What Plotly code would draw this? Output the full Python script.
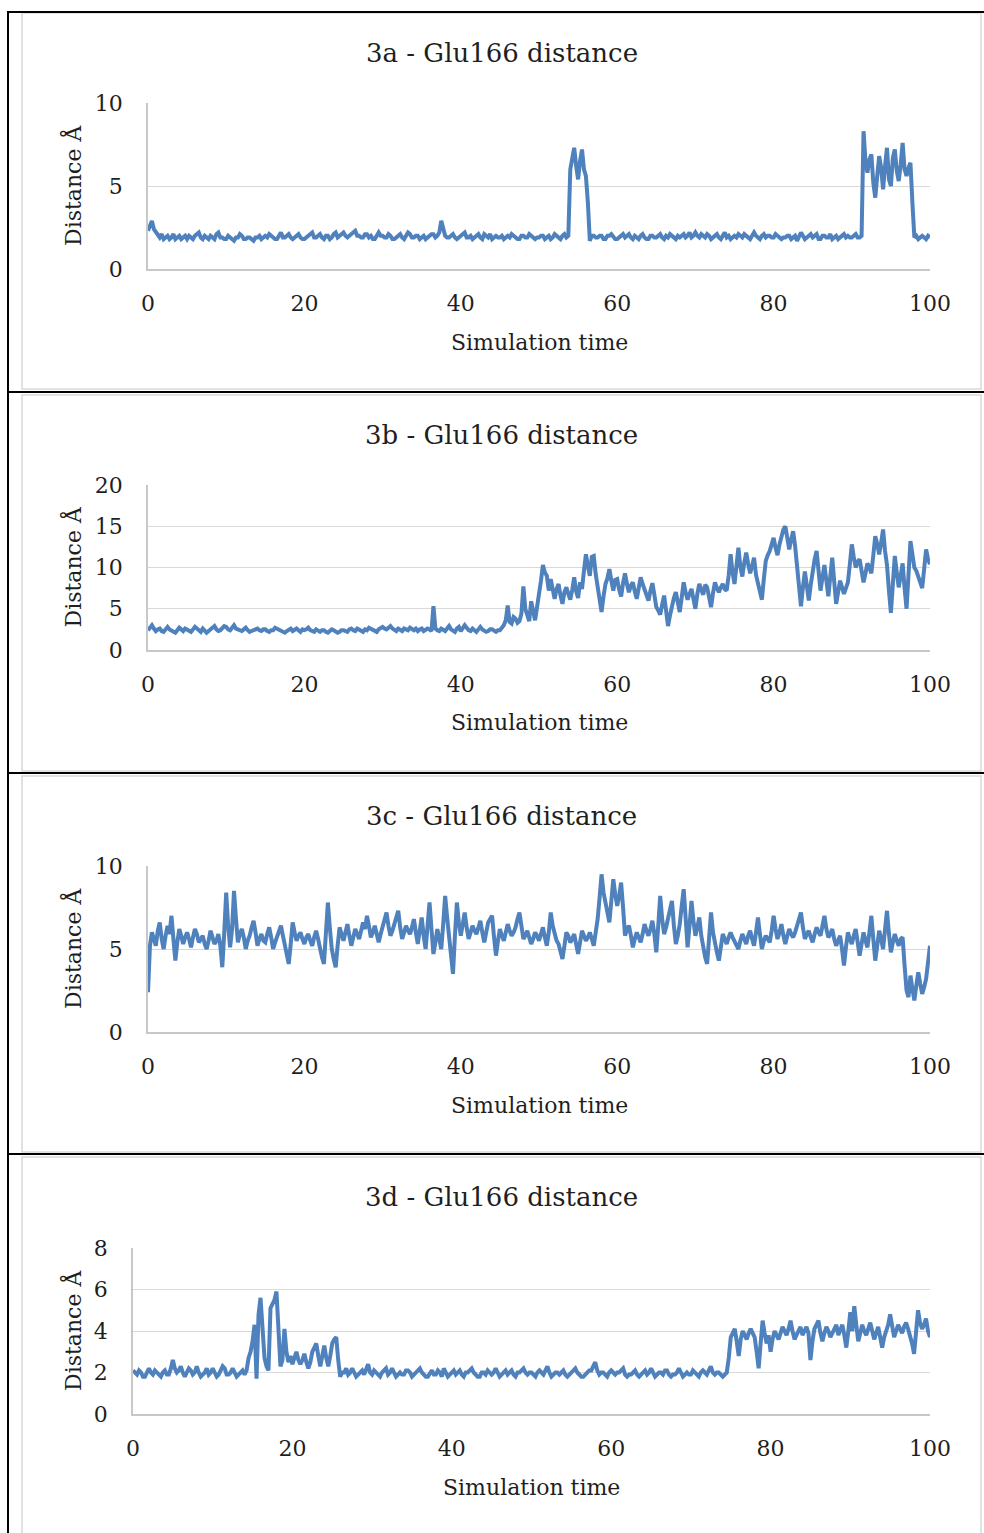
import plotly.graph_objects as go

W, H = 984, 1533

time = [i * 0.25 for i in range(401)]

dist_3a = [
    2.3, 2.6, 2.9, 2.4, 2.2, 2.0, 1.9, 2.1, 1.8, 1.9, 2.0, 1.8, 1.9, 2.1, 1.8, 1.9, 2.0, 1.8, 1.9, 2.0,
    1.8, 2.0, 1.9, 1.8, 2.0, 2.1, 2.2, 1.9, 1.8, 2.0, 1.9, 1.8, 2.0, 1.9, 1.8, 2.1, 2.2, 1.9, 1.9, 1.8,
    1.8, 2.0, 1.9, 1.8, 1.7, 1.9, 1.9, 2.1, 2.0, 1.8, 1.8, 1.9, 1.9, 1.8, 1.7, 1.9, 1.9, 2.0, 1.8, 1.9,
    2.0, 1.9, 2.1, 2.0, 1.9, 1.8, 1.8, 2.0, 2.2, 1.9, 1.9, 2.0, 2.1, 1.9, 1.8, 1.9, 2.0, 2.1, 1.9, 1.8,
    1.8, 1.9, 2.0, 2.1, 2.2, 1.9, 1.9, 2.0, 2.1, 1.9, 1.8, 2.0, 2.0, 1.8, 1.9, 2.1, 2.2, 1.9, 2.0, 2.1,
    2.2, 2.0, 1.9, 2.0, 2.1, 2.2, 2.3, 2.0, 2.0, 1.9, 1.9, 2.1, 2.1, 1.9, 2.0, 1.8, 1.8, 2.0, 2.2, 2.0,
    2.0, 1.9, 1.9, 2.1, 2.0, 1.8, 1.8, 1.9, 2.0, 2.1, 1.9, 1.8, 2.0, 2.2, 2.1, 1.9, 1.9, 2.0, 2.0, 1.8,
    1.9, 2.0, 1.8, 1.9, 2.0, 2.1, 2.1, 1.9, 2.0, 2.2, 2.9, 2.3, 2.0, 1.9, 1.9, 2.0, 2.1, 1.9, 1.8, 1.9,
    2.0, 2.1, 2.2, 1.9, 1.9, 2.0, 1.8, 1.9, 2.0, 2.1, 1.9, 1.8, 2.1, 2.0, 1.9, 2.1, 1.8, 1.9, 2.0, 1.9,
    1.9, 2.0, 1.8, 1.9, 2.0, 1.9, 2.1, 2.0, 1.9, 1.8, 1.8, 2.0, 2.0, 1.9, 1.9, 2.1, 2.0, 1.9, 1.8, 1.9,
    1.9, 2.0, 2.0, 1.8, 1.9, 2.0, 1.8, 1.9, 2.1, 2.0, 1.9, 1.8, 2.0, 2.1, 1.9, 2.0, 6.0, 6.8, 7.3, 6.2,
    5.4, 6.5, 7.2, 6.0, 5.6, 4.0, 1.7, 2.0, 2.0, 1.9, 1.9, 2.0, 2.0, 1.8, 1.8, 2.0, 2.0, 2.1, 1.9, 1.8,
    1.8, 1.9, 2.0, 2.1, 1.9, 2.0, 2.1, 1.9, 1.8, 2.0, 1.9, 1.8, 2.0, 2.1, 1.9, 1.8, 1.8, 2.0, 2.0, 1.9,
    1.9, 2.0, 2.1, 1.9, 1.8, 2.0, 1.9, 2.1, 2.0, 1.9, 1.8, 2.0, 1.9, 2.0, 2.1, 1.9, 2.0, 2.2, 1.9, 2.0,
    2.2, 2.0, 1.9, 2.1, 2.0, 1.9, 2.1, 2.0, 1.8, 1.9, 2.0, 2.1, 1.9, 1.8, 2.0, 2.2, 1.9, 2.0, 1.8, 1.9,
    2.0, 1.9, 2.1, 2.0, 1.9, 2.1, 2.0, 1.9, 1.8, 2.0, 2.2, 2.0, 1.9, 1.8, 2.0, 2.1, 1.9, 2.0, 2.0, 1.9,
    1.9, 2.1, 2.0, 1.9, 1.8, 1.9, 1.9, 2.0, 2.0, 1.8, 1.9, 2.0, 1.7, 1.9, 2.2, 2.0, 1.8, 1.9, 2.0, 2.1,
    1.9, 2.0, 2.1, 1.8, 1.8, 2.0, 2.0, 1.9, 1.9, 2.1, 1.8, 1.9, 2.0, 1.8, 1.9, 2.0, 2.1, 1.9, 2.0, 1.9,
    1.9, 2.0, 2.1, 1.9, 1.9, 2.0, 8.3, 6.5, 5.8, 6.6, 6.9, 5.2, 4.3, 5.6, 6.8, 6.1, 4.8, 6.2, 7.3, 5.4,
    5.0, 6.7, 7.2, 5.9, 5.3, 6.3, 7.6, 6.0, 5.6, 6.1, 6.4, 4.0, 1.9, 2.0, 1.8, 1.9, 2.0, 1.9, 1.8, 2.0,
    1.9,
]

dist_3b = [
    2.4, 2.8, 3.0, 2.6, 2.3, 2.5, 2.6, 2.3, 2.2, 2.5, 2.8, 2.5, 2.4, 2.2, 2.1, 2.4, 2.7, 2.5, 2.3, 2.6,
    2.5, 2.3, 2.2, 2.5, 2.8, 2.6, 2.4, 2.2, 2.6, 2.4, 2.1, 2.3, 2.5, 2.8, 2.9, 2.5, 2.3, 2.4, 2.6, 2.9,
    2.8, 2.5, 2.4, 2.7, 3.0, 2.6, 2.5, 2.3, 2.3, 2.5, 2.7, 2.4, 2.2, 2.3, 2.4, 2.6, 2.6, 2.4, 2.3, 2.5,
    2.5, 2.3, 2.2, 2.4, 2.4, 2.7, 2.6, 2.4, 2.3, 2.2, 2.1, 2.3, 2.5, 2.6, 2.3, 2.4, 2.6, 2.4, 2.2, 2.5,
    2.4, 2.5, 2.7, 2.4, 2.3, 2.2, 2.5, 2.3, 2.2, 2.4, 2.4, 2.2, 2.1, 2.3, 2.5, 2.4, 2.3, 2.1, 2.2, 2.4,
    2.4, 2.3, 2.2, 2.5, 2.6, 2.4, 2.3, 2.6, 2.5, 2.3, 2.2, 2.5, 2.4, 2.7, 2.6, 2.4, 2.3, 2.2, 2.5, 2.6,
    2.8, 2.6, 2.5, 2.7, 2.9, 2.6, 2.4, 2.3, 2.6, 2.5, 2.3, 2.6, 2.5, 2.4, 2.7, 2.5, 2.4, 2.6, 2.3, 2.5,
    2.6, 2.3, 2.4, 2.6, 2.5, 2.3, 5.3, 2.6, 2.4, 2.3, 2.6, 2.4, 2.3, 2.6, 2.9, 2.5, 2.4, 2.2, 2.6, 2.8,
    2.3, 2.6, 3.0, 2.7, 2.4, 2.3, 2.6, 2.4, 2.2, 2.5, 2.8, 2.5, 2.4, 2.2, 2.3, 2.5, 2.5, 2.3, 2.2, 2.4,
    2.4, 2.7, 3.0, 3.6, 5.4, 3.4, 3.2, 4.0, 3.8, 3.3, 3.5, 4.4, 7.7, 5.0, 4.2, 3.5, 5.9, 4.6, 3.6, 5.2,
    6.5, 8.4, 10.3, 9.4, 9.0, 7.2, 8.6, 7.5, 6.2, 7.4, 8.0, 6.6, 5.6, 7.0, 7.6, 6.8, 6.1, 7.3, 8.8, 7.1,
    6.3, 8.2, 7.4, 9.6, 11.6, 10.2, 9.0, 11.3, 11.4, 9.2, 7.5, 6.2, 4.6, 6.5, 8.0, 8.7, 9.8, 8.4, 7.2, 8.5,
    8.6, 7.3, 6.5, 8.1, 9.3, 8.0, 7.0, 7.8, 8.2, 7.1, 6.2, 7.5, 8.8, 8.0, 7.4, 6.6, 6.0, 7.2, 8.1, 6.7,
    5.2, 4.8, 4.3, 5.5, 6.6, 4.8, 2.9, 4.2, 5.6, 6.3, 7.0, 5.8, 4.6, 6.4, 8.2, 7.0, 6.1, 6.8, 7.4, 6.2,
    5.0, 6.8, 8.0, 7.3, 6.7, 7.9, 7.6, 6.4, 5.2, 6.9, 8.2, 7.5, 7.0, 7.6, 8.0, 7.4, 7.2, 9.0, 11.6, 9.4,
    8.0, 10.2, 12.4, 10.1, 8.9, 10.6, 11.8, 10.4, 9.3, 10.2, 11.2, 9.1, 8.0, 7.0, 6.1, 8.6, 10.8, 11.5, 12.0, 12.8,
    13.6, 12.4, 11.5, 12.8, 14.0, 14.6, 15.0, 13.5, 12.2, 13.4, 14.4, 12.6, 10.5, 7.8, 5.3, 7.6, 9.5, 7.8, 6.0, 7.9,
    9.8, 11.0, 12.0, 9.5, 7.2, 8.8, 10.3, 8.4, 6.5, 8.9, 11.2, 8.3, 5.6, 7.0, 8.4, 7.6, 6.8, 7.5, 8.2, 10.4,
    12.8, 11.3, 10.0, 10.7, 11.0, 9.6, 8.2, 9.3, 10.5, 10.0, 9.3, 11.5, 13.8, 12.9, 11.6, 13.0, 14.6, 12.0, 10.3, 7.2,
    4.5, 8.0, 11.4, 9.4, 7.6, 9.0, 10.5, 7.5, 5.0, 9.1, 13.2, 11.6, 10.0, 9.6, 9.0, 8.3, 7.5, 9.8, 12.2, 11.0,
    10.4,
]

dist_3c = [
    2.4, 5.2, 6.0, 5.5, 5.2, 6.1, 6.6, 5.6, 5.0, 5.8, 6.4, 5.9, 7.0, 5.6, 4.3, 5.4, 6.2, 5.8, 5.3, 5.7,
    6.0, 5.6, 5.1, 5.7, 6.2, 5.9, 5.4, 5.6, 5.8, 5.3, 5.0, 5.5, 6.1, 5.7, 5.3, 5.5, 5.9, 5.2, 3.9, 6.0,
    8.4, 6.4, 5.1, 6.2, 8.5, 6.8, 5.4, 5.9, 6.2, 5.7, 5.0, 5.5, 5.8, 6.3, 6.7, 6.0, 5.2, 5.6, 5.9, 5.5,
    5.4, 5.9, 6.3, 5.7, 5.0, 5.4, 5.8, 6.1, 6.4, 5.8, 5.2, 4.8, 4.1, 5.3, 6.6, 6.0, 5.5, 5.8, 6.0, 5.6,
    5.3, 5.7, 5.9, 5.5, 5.2, 5.7, 6.1, 5.6, 4.9, 4.5, 4.1, 5.6, 7.8, 6.3, 5.0, 4.4, 3.9, 5.2, 6.3, 5.9,
    5.5, 6.0, 6.5, 5.8, 5.2, 5.7, 6.2, 5.9, 5.6, 6.1, 6.6, 6.2, 7.0, 6.4, 5.7, 6.0, 6.4, 5.9, 5.4, 5.9,
    6.3, 6.8, 7.2, 6.4, 5.8, 6.1, 6.5, 6.9, 7.3, 6.3, 5.6, 6.0, 6.4, 6.1, 5.9, 6.3, 6.8, 6.0, 5.3, 6.1,
    6.9, 5.8, 5.0, 6.4, 7.8, 6.2, 4.7, 5.4, 6.2, 5.6, 5.0, 6.5, 8.2, 6.9, 5.6, 4.5, 3.5, 5.8, 7.8, 6.6,
    5.8, 6.5, 7.2, 6.3, 5.6, 6.0, 6.4, 6.1, 5.9, 6.3, 6.7, 6.0, 5.4, 6.0, 6.6, 6.8, 7.0, 5.7, 4.6, 5.5,
    6.2, 5.8, 5.5, 6.0, 6.5, 6.1, 5.8, 6.0, 6.3, 6.8, 7.2, 6.4, 5.6, 5.8, 6.1, 5.7, 5.3, 5.6, 6.0, 5.8,
    5.5, 5.9, 6.3, 5.7, 5.2, 6.0, 7.2, 6.4, 5.8, 5.5, 5.3, 4.9, 4.4, 5.2, 6.0, 5.8, 5.4, 5.6, 5.9, 5.3,
    4.7, 5.4, 6.1, 5.8, 5.5, 5.7, 6.0, 5.6, 5.2, 6.0, 6.8, 8.1, 9.5, 8.4, 7.8, 6.9, 6.6, 7.9, 9.2, 8.3,
    7.6, 8.2, 9.0, 7.5, 5.8, 6.2, 6.4, 5.8, 5.1, 5.6, 6.0, 5.7, 5.4, 5.9, 6.5, 6.1, 5.8, 6.2, 6.7, 5.9,
    4.8, 6.4, 8.2, 6.8, 5.9, 6.3, 6.8, 7.3, 7.9, 6.4, 5.3, 5.8, 6.5, 7.6, 8.6, 6.9, 5.1, 6.4, 7.9, 6.7,
    5.8, 6.3, 6.9, 5.8, 5.0, 4.5, 4.1, 5.6, 7.2, 6.0, 5.2, 4.8, 4.3, 5.1, 5.9, 5.6, 5.3, 5.7, 6.0, 5.7,
    5.5, 5.2, 5.0, 5.5, 5.9, 5.6, 5.3, 5.8, 6.1, 5.6, 5.2, 6.0, 6.9, 5.9, 5.0, 5.5, 5.8, 5.6, 5.4, 6.1,
    7.0, 6.2, 5.6, 6.0, 6.5, 5.8, 5.3, 5.8, 6.2, 5.9, 5.7, 6.0, 6.4, 6.8, 7.2, 6.3, 5.6, 5.9, 6.1, 5.7,
    5.4, 5.9, 6.3, 6.0, 5.8, 6.4, 7.0, 6.2, 5.7, 5.9, 6.2, 5.6, 5.2, 5.5, 5.8, 5.0, 4.0, 5.1, 6.0, 5.6,
    5.3, 5.8, 6.2, 5.4, 4.6, 5.3, 6.0, 5.5, 5.1, 6.0, 7.0, 5.6, 4.3, 5.2, 6.1, 5.6, 5.0, 6.2, 7.3, 5.9,
    4.8, 5.4, 5.9, 5.5, 5.2, 5.6, 5.7, 4.0, 2.5, 2.1, 3.4, 2.6, 1.9, 2.8, 3.6, 2.9, 2.3, 2.7, 3.2, 4.2,
    5.2,
]

dist_3d = [
    2.1, 2.0, 1.9, 2.1, 2.0, 1.8, 1.8, 2.0, 2.2, 2.0, 1.9, 2.1, 2.0, 1.9, 1.8, 2.0, 2.1, 1.9, 1.9, 2.2,
    2.6, 2.2, 2.0, 2.1, 2.3, 2.0, 1.8, 2.0, 2.2, 2.1, 1.9, 2.0, 2.3, 2.0, 1.8, 1.9, 2.0, 2.2, 1.9, 2.0,
    2.2, 2.0, 1.8, 1.9, 2.1, 2.3, 2.2, 1.9, 1.9, 2.0, 2.2, 2.0, 1.8, 1.9, 2.0, 2.1, 1.9, 2.1, 2.7, 3.0,
    3.5, 4.3, 1.7, 4.8, 5.6, 4.0, 2.7, 2.3, 2.1, 5.1, 5.3, 5.5, 5.9, 4.0, 2.3, 2.6, 4.1, 3.0, 2.5, 2.8,
    2.4, 2.7, 3.0, 2.6, 2.4, 2.6, 2.9, 2.5, 2.2, 2.5, 3.0, 3.2, 3.4, 2.8, 2.3, 2.8, 3.3, 2.7, 2.3, 2.8,
    3.4, 3.6, 3.7, 2.6, 1.8, 2.0, 2.0, 2.2, 1.9, 2.0, 2.2, 2.0, 1.8, 1.9, 2.0, 2.1, 1.9, 2.2, 2.4, 2.0,
    1.9, 2.1, 2.0, 1.9, 1.8, 2.0, 2.1, 2.2, 1.9, 2.0, 2.2, 2.0, 1.8, 1.9, 2.0, 1.9, 1.9, 2.1, 2.1, 2.0,
    1.8, 1.9, 2.0, 2.1, 2.2, 2.0, 1.9, 1.8, 1.8, 2.0, 2.1, 1.9, 1.9, 2.1, 2.0, 1.8, 2.2, 2.0, 1.8, 1.9,
    2.0, 2.1, 1.9, 2.0, 2.1, 1.9, 1.8, 2.0, 2.0, 2.1, 2.2, 2.0, 1.9, 1.8, 1.8, 2.0, 2.0, 1.9, 2.1, 2.0,
    1.9, 2.0, 2.2, 2.0, 1.8, 1.9, 2.0, 2.1, 1.9, 2.0, 2.1, 1.9, 1.8, 2.0, 2.0, 2.1, 2.2, 2.0, 1.9, 2.0,
    2.0, 1.9, 1.8, 2.0, 2.1, 2.0, 1.9, 2.1, 2.3, 2.0, 1.8, 1.9, 2.0, 2.0, 1.9, 2.0, 2.1, 1.9, 1.8, 1.9,
    2.0, 2.1, 2.2, 2.0, 1.9, 1.8, 1.8, 1.9, 2.0, 2.1, 2.1, 2.3, 2.5, 2.1, 1.9, 2.0, 2.0, 1.9, 1.8, 2.0,
    2.1, 2.0, 1.9, 2.0, 2.0, 2.1, 2.2, 1.9, 1.8, 1.9, 1.9, 2.0, 2.1, 1.9, 1.8, 1.9, 2.0, 2.1, 1.9, 2.0,
    2.2, 2.0, 1.8, 1.9, 2.0, 2.0, 1.9, 2.1, 2.1, 1.9, 1.8, 1.9, 1.9, 2.0, 2.2, 2.0, 1.8, 1.9, 2.0, 1.9,
    1.9, 2.1, 2.0, 1.9, 1.8, 2.0, 2.1, 2.0, 1.9, 2.1, 2.3, 2.0, 1.9, 2.0, 2.0, 1.9, 1.8, 1.9, 2.0, 2.7,
    3.7, 3.9, 4.1, 3.5, 2.8, 3.6, 4.0, 3.8, 3.6, 3.9, 4.1, 3.9, 3.7, 3.0, 2.2, 3.4, 4.5, 3.9, 3.4, 3.8,
    3.0, 3.6, 4.0, 3.8, 3.6, 3.9, 4.2, 4.0, 3.8, 4.1, 4.5, 4.0, 3.6, 3.8, 4.0, 4.2, 3.8, 4.0, 4.2, 3.9,
    2.6, 3.5, 4.1, 4.3, 4.5, 3.9, 3.5, 3.9, 4.2, 4.0, 3.7, 3.9, 4.1, 4.3, 3.8, 4.0, 4.3, 3.8, 3.2, 4.0,
    4.9, 4.0, 5.2, 4.3, 3.5, 3.9, 4.3, 4.0, 3.8, 4.1, 4.4, 4.0, 3.6, 3.9, 4.2, 3.7, 3.2, 3.7, 4.0, 4.3,
    4.8, 4.1, 3.7, 4.0, 4.3, 4.1, 3.9, 4.2, 4.4, 4.1, 3.8, 3.4, 2.9, 4.0, 5.0, 4.4, 4.1, 4.3, 4.6, 4.0,
    3.7,
]

titles = ["3a - Glu166 distance", "3b - Glu166 distance",
          "3c - Glu166 distance", "3d - Glu166 distance"]
y_tick_values = [[0, 5, 10], [0, 5, 10, 15, 20], [0, 5, 10], [0, 2, 4, 6, 8]]
y_ranges = [[0, 10], [0, 20], [0, 10], [0, 8]]
x_tick_values = [0, 20, 40, 60, 80, 100]
x_title = "Simulation time"
y_title = "Distance Å"
series = [dist_3a, dist_3b, dist_3c, dist_3d]

# ---------------- layout geometry (pixels) ----------------
# plot areas: (left, right, top, bottom)
plot_px = [(148, 930, 103, 269), (148, 930, 485, 650),
           (148, 930, 866, 1032), (133, 930, 1248, 1414)]
# chart-area boxes (top, bottom)
box_px = [(13, 389), (395, 771), (776, 1152), (1157, 1540)]
black_h = [12, 392, 773, 1154]

FONT = "DejaVu Serif"
LINE = "#4f81bd"
GRID = "#d9d9d9"
TXT = "#1f1f1f"


def fx(x):
    return x / W


def fy(y):
    return 1 - y / H


fig = go.Figure()
layout = dict(
    width=W, height=H, autosize=False,
    margin=dict(l=0, r=0, t=0, b=0, pad=0, autoexpand=False),
    paper_bgcolor="white", plot_bgcolor="white", showlegend=False,
    font=dict(family=FONT, color=TXT, size=22),
)
annotations = []
shapes = []

for i in range(4):
    l, r, t, b = plot_px[i]
    xa = "xaxis" if i == 0 else f"xaxis{i+1}"
    ya = "yaxis" if i == 0 else f"yaxis{i+1}"
    xr = "x" if i == 0 else f"x{i+1}"
    yr = "y" if i == 0 else f"y{i+1}"
    fig.add_trace(go.Scatter(x=time, y=series[i], mode="lines",
                             line=dict(color=LINE, width=4),
                             xaxis=xr, yaxis=yr, hoverinfo="skip"))
    layout[xa] = dict(domain=[fx(l), fx(r)], anchor=yr, range=[0, 100],
                      tickvals=x_tick_values, showgrid=False, zeroline=False,
                      showline=True, linecolor="#c8c8c8", linewidth=1.5,
                      ticks="", ticklabelstandoff=14, automargin=False,
                      fixedrange=True,
                      tickfont=dict(family=FONT, size=22, color=TXT))
    layout[ya] = dict(domain=[fy(b), fy(t)], anchor=xr, range=y_ranges[i],
                      tickvals=y_tick_values[i], showgrid=True, gridcolor=GRID,
                      gridwidth=1.3, zeroline=False, showline=True,
                      linecolor="#c8c8c8", linewidth=1.5, ticks="",
                      ticklabelstandoff=19, automargin=False, fixedrange=True,
                      tickfont=dict(family=FONT, size=22, color=TXT))
    # chart title
    annotations.append(dict(text=titles[i], x=fx(501.5), y=fy(box_px[i][0] + 40),
                            xref="paper", yref="paper", showarrow=False,
                            xanchor="center", yanchor="middle",
                            font=dict(family=FONT, size=26, color=TXT)))
    # x-axis title
    annotations.append(dict(text=x_title, x=fx((l + r) / 2), y=fy(b + 73),
                            xref="paper", yref="paper", showarrow=False,
                            xanchor="center", yanchor="middle",
                            font=dict(family=FONT, size=22, color=TXT)))
    # y-axis title
    annotations.append(dict(text=y_title, x=fx(72), y=fy((t + b) / 2),
                            xref="paper", yref="paper", showarrow=False,
                            textangle=-90, xanchor="center", yanchor="middle",
                            font=dict(family=FONT, size=22, color=TXT)))
    # light grey chart-area border
    bt, bb = box_px[i]
    shapes.append(dict(type="rect", xref="paper", yref="paper",
                       x0=fx(22), x1=fx(981), y0=fy(bb), y1=fy(bt),
                       line=dict(color="#d9d9d9", width=1.5)))

# black table lines
for y in black_h:
    shapes.append(dict(type="line", xref="paper", yref="paper",
                       x0=fx(7), x1=1, y0=fy(y), y1=fy(y),
                       line=dict(color="black", width=2)))
shapes.append(dict(type="line", xref="paper", yref="paper",
                   x0=fx(8), x1=fx(8), y0=fy(11), y1=0,
                   line=dict(color="black", width=2)))

layout["annotations"] = annotations
layout["shapes"] = shapes
fig.update_layout(**layout)
fig.write_html(
    "out.html",
    config={"displayModeBar": False, "responsive": False},
    post_script="document.body.style.margin='0';"
                "document.body.style.padding='0';"
                "document.documentElement.style.overflow='hidden';",
)
